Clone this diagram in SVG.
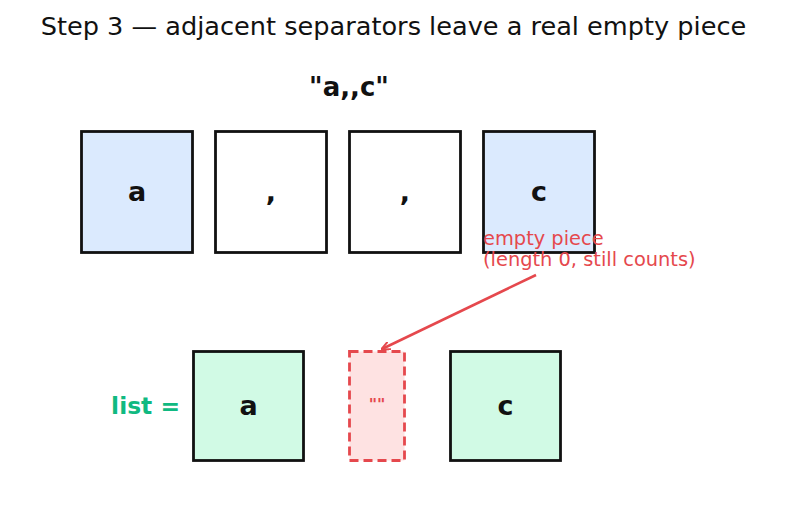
<svg xmlns="http://www.w3.org/2000/svg" width="787" height="512" viewBox="0 0 787 512">
<style>
text{font-family:"DejaVu Sans","Liberation Sans",sans-serif;}
.box{stroke:#111;stroke-width:2.8;}
.blue{fill:#dbeafe;}
.white{fill:#fff;}
.green{fill:#d1fae5;}
.ch{font-size:27px;font-weight:bold;fill:#111;text-anchor:middle;dominant-baseline:central;}
</style>
<defs>
<marker id="ah" viewBox="0 0 10 10" refX="9" refY="5" markerWidth="9" markerHeight="9" orient="auto" markerUnits="userSpaceOnUse">
<path d="M0,0.5 L10,5 L0,9.5" fill="none" stroke="#e5484d" stroke-width="2.2"/>
</marker>
</defs>
<rect width="787" height="512" fill="#fff"/>
<text x="393.5" y="35" font-size="25.6" text-anchor="middle" fill="#111">Step 3 — adjacent separators leave a real empty piece</text>
<text x="349" y="96" font-size="26" font-weight="bold" text-anchor="middle" fill="#111">"a,,c"</text>
<g id="src-a"><rect class="box blue" x="81.5" y="131.5" width="111" height="121"/><text class="ch" x="137" y="191">a</text></g>
<g id="src-comma1"><rect class="box white" x="215.5" y="131.5" width="111" height="121"/><text class="ch" x="271" y="191">,</text></g>
<g id="src-comma2"><rect class="box white" x="349.5" y="131.5" width="111" height="121"/><text class="ch" x="405" y="191">,</text></g>
<g id="src-c"><rect class="box blue" x="483.5" y="131.5" width="111" height="121"/><text class="ch" x="539" y="191">c</text></g>
<g id="note"><text x="483" y="245" font-size="19.4" fill="#e5484d">empty piece</text><text x="483" y="266" font-size="19.4" fill="#e5484d">(length 0, still counts)</text></g>
<text x="180" y="414" font-size="23.4" font-weight="bold" text-anchor="end" fill="#10b981">list =</text>
<g id="out-a"><rect class="box green" x="193.5" y="351.5" width="110" height="109"/><text class="ch" x="248.5" y="405">a</text></g>
<g id="out-empty"><rect x="349.5" y="351.5" width="55" height="109" fill="#fee2e2" stroke="#e5484d" stroke-width="2.8" stroke-dasharray="9,5"/><text x="377" y="404" font-size="16" font-weight="bold" text-anchor="middle" dominant-baseline="central" fill="#e5484d">""</text></g>
<g id="out-c"><rect class="box green" x="450.5" y="351.5" width="110" height="109"/><text class="ch" x="505.5" y="405">c</text></g>
<g id="connectors"><line x1="536" y1="275" x2="382" y2="349" stroke="#e5484d" stroke-width="2.5" marker-end="url(#ah)"/></g>
</svg>
